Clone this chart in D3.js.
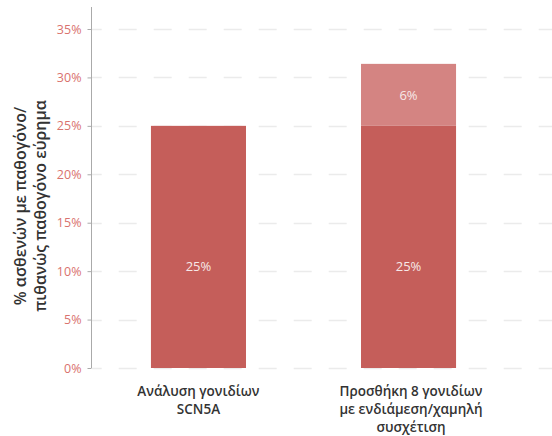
<!DOCTYPE html>
<html>
<head>
<meta charset="utf-8">
<script src="https://cdn.jsdelivr.net/npm/d3@7"></script>
<style>
  html, body { margin: 0; padding: 0; background: #fff; }
  svg { display: block; }
  text { font-family: "Open Sans", "Noto Sans", sans-serif; }
</style>
</head>
<body>
<svg id="chart" width="552" height="436"></svg>
<script>
// Categories (x-axis labels, one line per array entry)
const categories = ["SCN5A", "PLUS8"];
const categoryLines = [
  ["Ανάλυση γονιδίων", "SCN5A"],
  ["Προσθήκη 8 γονιδίων", "με ενδιάμεση/χαμηλή", "συσχέτιση"]
];
// Stacked series values (fraction of patients)
const seriesNames = ["base", "added"];
const baseValues  = [0.25, 0.25];
const addedValues = [0, 0.064];
const seriesColors = ["#c55e5a", "#d48482"];
// Y-axis ticks
const yTicks = [0, 0.05, 0.10, 0.15, 0.20, 0.25, 0.30, 0.35];
const yTitleLines = ["% ασθενών με παθογόνο/", "πιθανώς παθογόνο εύρημα"];

const svg = d3.select("#chart");

const y = d3.scaleLinear().domain([0, 0.35]).range([368, 29]);
const x = d3.scaleBand()
  .domain(categories)
  .range([91.5, 515.5])
  .paddingInner(0.5476)
  .paddingOuter(0.283);

// Dashed gridlines
svg.append("g").selectAll("line")
  .data(yTicks)
  .join("line")
  .attr("x1", 92).attr("x2", 552)
  .attr("y1", d => Math.round(y(d)) + 0.5)
  .attr("y2", d => Math.round(y(d)) + 0.5)
  .attr("stroke", "#ebebeb")
  .attr("stroke-width", 1.5)
  .attr("stroke-dasharray", "18,17")
  .attr("stroke-dashoffset", 8.3);

// Stack the two series
const table = categories.map((c, i) => ({ cat: c, base: baseValues[i], added: addedValues[i] }));
const stacked = d3.stack().keys(seriesNames)(table);

const fmt = d3.format(".0%");

stacked.forEach((layer, li) => {
  const g = svg.append("g");
  g.selectAll("rect")
    .data(layer.filter(d => d[1] - d[0] > 0))
    .join("rect")
    .attr("x", d => x(d.data.cat))
    .attr("width", x.bandwidth())
    .attr("y", d => y(d[1]))
    .attr("height", d => y(d[0]) - y(d[1]))
    .attr("fill", seriesColors[li]);

  g.selectAll("text")
    .data(layer.filter(d => d[1] - d[0] > 0))
    .join("text")
    .attr("x", d => x(d.data.cat) + x.bandwidth() / 2)
    .attr("y", d => li === 0 ? y((d[0] + d[1]) / 2) + 21 : y((d[0] + d[1]) / 2) + 1.5)
    .attr("text-anchor", "middle")
    .attr("dominant-baseline", "middle")
    .attr("fill", "#f7e9e8")
    .attr("font-size", 13)
    .text(d => fmt(d[1] - d[0]));
});

// Y axis
const yAxis = d3.axisLeft(y)
  .tickValues(yTicks)
  .tickFormat(d3.format(".0%"))
  .tickSize(4)
  .tickPadding(6);

const ya = svg.append("g")
  .attr("transform", "translate(91.5,0)")
  .call(yAxis);
ya.select(".domain").remove();
ya.selectAll(".tick line").attr("stroke", "#aaa");
ya.selectAll(".tick text")
  .attr("fill", "#d9726e")
  .attr("font-size", 12.5)
  .attr("font-family", "'Open Sans', 'Noto Sans', sans-serif");

// Axis spine
svg.append("line")
  .attr("x1", 91.5).attr("x2", 91.5)
  .attr("y1", 7).attr("y2", 368)
  .attr("stroke", "#aaa")
  .attr("stroke-width", 1);

// Y title
const yt = svg.append("text")
  .attr("transform", "translate(26,206) rotate(-90)")
  .attr("text-anchor", "middle")
  .attr("fill", "#333")
  .attr("font-size", 16)
  .attr("font-weight", 600);
yTitleLines.forEach((t, i) => {
  yt.append("tspan").attr("x", 0).attr("dy", i === 0 ? 0 : 20).text(t);
});

// X category labels
categories.forEach((c, i) => {
  const cx = x(c) + x.bandwidth() / 2 + (i === 1 ? 2.5 : 0);
  const t = svg.append("text")
    .attr("x", cx)
    .attr("y", 395.5)
    .attr("text-anchor", "middle")
    .attr("fill", "#333")
    .attr("font-size", 13.5)
    .attr("font-weight", 600);
  categoryLines[i].forEach((line, j) => {
    t.append("tspan")
      .attr("x", cx)
      .attr("dy", j === 0 ? 0 : 18.4)
      .text(line);
  });
});
</script>
</body>
</html>
